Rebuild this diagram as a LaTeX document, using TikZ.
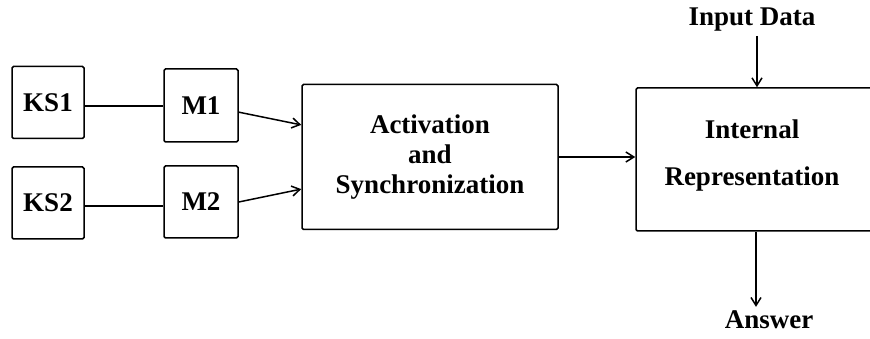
\documentclass[tikz,border=0pt]{standalone}
\usepackage{fontspec}
\setmainfont{Liberation Serif}
\usepackage{tikz}
\usetikzlibrary{arrows.meta}

\begin{document}
\begin{tikzpicture}[x=1pt,y=-1pt,line width=1.5pt,
    >={Straight Barb[length=8pt,width=10pt]},
    box/.style={draw,rounded corners=1.5pt,inner sep=0pt,align=center},
    lbl/.style={font=\fontsize{27}{30}\selectfont\bfseries}]
      \useasboundingbox (0,0) rectangle (870,339);
      % knowledge sources and monitors
      \node[box,lbl,minimum width=72pt,minimum height=72pt](KS1) at (48,102.5){KS1};
      \node[box,lbl,minimum width=72pt,minimum height=72pt](KS2) at (48,203){KS2};
      \node[box,lbl,minimum width=74pt,minimum height=73pt](M1) at (201,105.5){M1};
      \node[box,lbl,minimum width=74pt,minimum height=72pt](M2) at (201,202){M2};
      % activation and internal representation
      \node[box,lbl,minimum width=256pt,minimum height=145pt](Act) at (430,157){Activation\\and\\Synchronization};
      \node[box,minimum width=290pt,minimum height=143pt](IR) at (781,159.5){};
      \node[lbl,align=center](IRtext) at (752,156){Internal\\[17pt]Representation};
      \node[lbl](In) at (752,20){Input Data};
      \node[lbl](Ans) at (769,320){Answer};
      \draw (KS1.east |- 0,106) -- (M1.west |- 0,106);
      \draw (KS2.east |- 0,206) -- (M2.west |- 0,206);
      \draw[->] (M1.350) -- (Act.166);
      \draw[->] (M2.east) -- (Act.194);
      \draw[->] (Act.east) -- (Act.east -| IR.west);
      \draw[->] (In.south -| 757,0) -- (IR.north -| 757,0);
      \draw[->] (IR.south -| 756,0) -- (Ans.north -| 756,0);
\end{tikzpicture}
\end{document}
